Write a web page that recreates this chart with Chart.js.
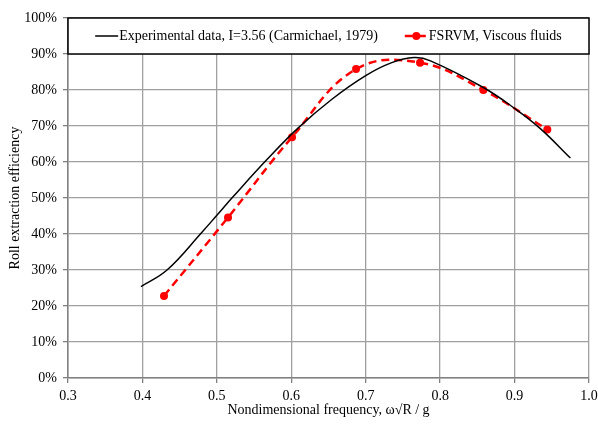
<!DOCTYPE html>
<html><head><meta charset="utf-8">
<script src="https://cdn.jsdelivr.net/npm/chart.js@4/dist/chart.umd.min.js"></script>
<style>html,body{margin:0;padding:0;background:#fff}#wrap{width:598px;height:427px;position:relative}</style>
</head><body><div id="wrap"><canvas id="c"></canvas></div>
<script>
const expX = [0.398, 0.433, 0.480, 0.500, 0.522, 0.567, 0.609, 0.655, 0.700, 0.735, 0.765, 0.787, 0.858, 0.900, 0.935, 0.975];
const expY = [25.4, 30.0, 40.5, 45.2, 50.4, 60.6, 69.4, 77.5, 84.0, 87.6, 89.0, 88.1, 80.7, 74.9, 69.2, 61.1];
// FSRVM, viscous fluids
const fsrvmX = [0.429, 0.515, 0.601, 0.687, 0.773, 0.858, 0.944];
const fsrvmY = [22.8, 44.6, 66.9, 85.8, 87.6, 80.0, 69.0];
const seriesLabels = ["Experimental data, I=3.56 (Carmichael, 1979)", "FSRVM, Viscous fluids"];
const xTitle = "Nondimensional frequency, \u03C9\u221AR / g";
const yTitle = "Roll extraction efficiency";
const xMin = 0.3, xMax = 1.0, xStep = 0.1;
const yMin = 0, yMax = 100, yStep = 10, legendFloor = 90;

const FONT = '"Liberation Serif", "Times New Roman", serif';
const FS = 14;

const insideLegend = {
  id: 'insideLegend',
  beforeDatasetsDraw(chart) {
    const {ctx, chartArea, scales} = chart;
    const top = chartArea.top;
    const bottom = scales.y.getPixelForValue(legendFloor);
    ctx.save();
    ctx.fillStyle = '#fff';
    ctx.fillRect(chartArea.left, top, chartArea.right - chartArea.left, bottom - top);
    ctx.strokeStyle = '#000';
    ctx.lineWidth = 1.5;
    ctx.strokeRect(chartArea.left, top, chartArea.right - chartArea.left, bottom - top);
    ctx.font = FS + 'px ' + FONT;
    const ds = chart.data.datasets;
    const sw = 23, gap = 1, itemGap = 27;
    const widths = ds.map(d => ctx.measureText(d.label).width);
    const total = widths.reduce((a, w) => a + sw + gap + w, 0) + itemGap * (ds.length - 1);
    let x = (chartArea.left + chartArea.right) / 2 - total / 2;
    const cy = (top + bottom) / 2;
    ds.forEach((d, i) => {
      ctx.strokeStyle = d.borderColor;
      ctx.lineWidth = d.borderWidth;
      ctx.setLineDash(d.borderDash || []);
      ctx.beginPath(); ctx.moveTo(x, cy); ctx.lineTo(x + sw, cy); ctx.stroke();
      ctx.setLineDash([]);
      if (d.pointRadius > 0) {
        ctx.fillStyle = d.pointBackgroundColor;
        ctx.beginPath(); ctx.arc(x + sw / 2, cy, d.pointRadius, 0, Math.PI * 2); ctx.fill();
      }
      ctx.fillStyle = '#000';
      ctx.textBaseline = 'middle';
      ctx.textAlign = 'left';
      ctx.fillText(d.label, x + sw + gap, cy + 0.5);
      x += sw + gap + widths[i] + itemGap;
    });
    ctx.restore();
  }
};

new Chart(document.getElementById('c'), {
  type: 'line',
  data: {
    datasets: [
      {
        label: seriesLabels[0],
        data: expX.map((x, i) => ({x: x, y: expY[i]})),
        borderColor: '#000',
        borderWidth: 1.5,
        pointRadius: 0,
        tension: 0.4,
        fill: false
      },
      {
        label: seriesLabels[1],
        data: fsrvmX.map((x, i) => ({x: x, y: fsrvmY[i]})),
        borderColor: '#ff0000',
        borderWidth: 2.5,
        borderDash: [8, 5],
        pointRadius: 4,
        pointBackgroundColor: '#ff0000',
        pointBorderColor: '#ff0000',
        pointBorderWidth: 0,
        tension: 0.4,
        fill: false
      }
    ]
  },
  options: {
    responsive: true,
    maintainAspectRatio: false,
    animation: false,
    devicePixelRatio: 1,
    layout: {padding: {top: 18, right: 9, left: 0, bottom: 0}},
    plugins: {legend: {display: false}, tooltip: {enabled: false}},
    scales: {
      x: {
        type: 'linear', min: xMin, max: xMax,
        ticks: {stepSize: xStep, callback: v => v.toFixed(1), font: {family: FONT, size: FS}, color: '#000', padding: 5, maxRotation: 0},
        grid: {color: '#a0a0a0', lineWidth: 1.3, tickLength: 5, tickColor: '#808080'},
        border: {color: '#808080', width: 1.5},
        title: {display: true, text: xTitle, font: {family: FONT, size: FS}, color: '#000', padding: {top: 2, bottom: 8}},
        afterFit: s => { s.height = 49; s.paddingLeft = 0; s.paddingRight = 0; }
      },
      y: {
        min: yMin, max: yMax,
        ticks: {stepSize: yStep, callback: v => v + '%', font: {family: FONT, size: FS}, color: '#000', padding: 6},
        grid: {color: '#a0a0a0', lineWidth: 1.3, tickLength: 5, tickColor: '#808080'},
        border: {color: '#808080', width: 1.5},
        title: {display: true, text: yTitle, font: {family: FONT, size: FS}, color: '#000', padding: {top: 7, bottom: 0}},
        afterFit: s => { s.width = 68; s.paddingTop = 0; s.paddingBottom = 0; }
      }
    }
  },
  plugins: [insideLegend]
});
</script>
</body></html>
